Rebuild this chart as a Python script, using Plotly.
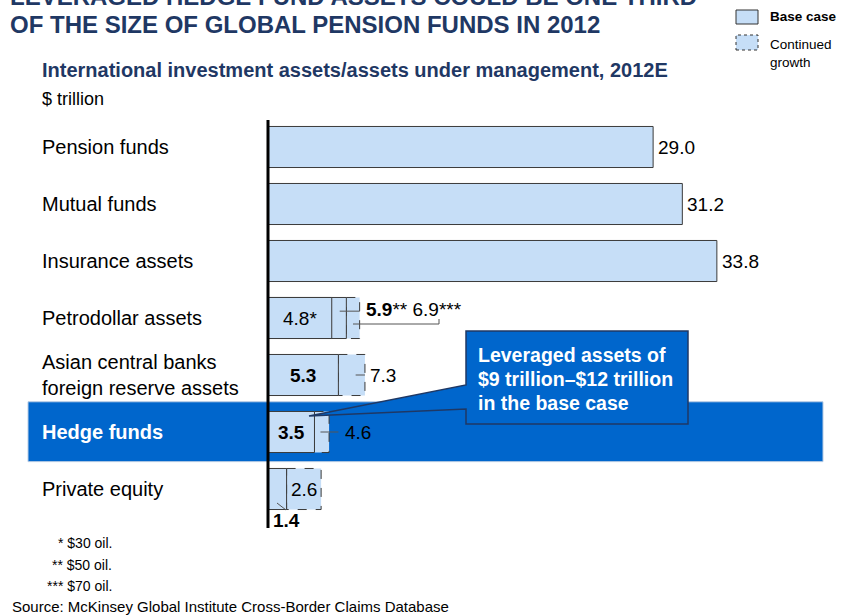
import plotly.graph_objects as go

# dados (US$ trilhões)
categorias = ['Pension funds', 'Mutual funds', 'Insurance assets', 'Petrodollar assets',
              'Asian central banks<br>foreign reserve assets', 'Hedge funds', 'Private equity']
base_case = [29.0, 31.2, 33.8, 5.9, 5.3, 3.5, 1.4]
petro_30 = [None, None, None, 4.8, None, None, None]
continued = [None, None, None, 6.9, 7.3, 4.6, 4.0]
rotulo_base = ['29.0', '31.2', '33.8', '<b>5.9</b>**', '<b>5.3</b>', '<b>3.5</b>', '<b>1.4</b>']
rotulo_cont = ['', '', '', '6.9***', '7.3', '4.6', '2.6']
notas = ['* $30 oil.', '** $50 oil.', '*** $70 oil.']
balao_linhas = ['Leveraged assets of', '$9 trillion–$12 trillion', 'in the base case']

W, H = 843, 615
EIXO_X = 268          # pixel do zero
PX_UNID = 13.28       # pixels por trilhão
LINHA0, PASSO = 147, 57

AZUL_CLARO = '#C6DEF7'
AZUL = '#0066CC'
MARINHO = '#1F3864'
CONTORNO = '#3A3A3A'
FONTE = 'Liberation Sans, Arial, sans-serif'


def px(x):
    return x / W


def py(y):
    return 1 - y / H


def texto(t, x, y, size, color='black', xanchor='left', align='left'):
    return dict(text=t, xref='paper', yref='paper', x=px(x), y=py(y), xanchor=xanchor,
                yanchor='middle', align=align, showarrow=False,
                font=dict(family=FONTE, size=size, color=color))


fig = go.Figure()

fig.add_trace(go.Bar(
    y=categorias, x=base_case, orientation='h', width=0.72,
    marker=dict(color=AZUL_CLARO, line=dict(color=CONTORNO, width=1)),
    hoverinfo='x+y', showlegend=False
))
fig.add_trace(go.Bar(
    y=categorias, x=petro_30, orientation='h', width=0.72,
    marker=dict(color=AZUL_CLARO, line=dict(color=CONTORNO, width=1)),
    hoverinfo='x+y', showlegend=False
))

shapes = []
# faixa de destaque dos hedge funds
i_hf = categorias.index('Hedge funds')
shapes.append(dict(type='rect', xref='paper', yref='y', layer='below',
                   x0=px(28), x1=px(823), y0=i_hf - 0.53, y1=i_hf + 0.52,
                   fillcolor=AZUL, line=dict(color='#B8CCE4', width=1)))

# caixas tracejadas (crescimento contínuo)
for i, (b, c) in enumerate(zip(base_case, continued)):
    if c is None:
        continue
    shapes.append(dict(type='rect', xref='x', yref='y', layer='below',
                       x0=b, x1=c, y0=i - 0.36, y1=i + 0.36,
                       fillcolor=AZUL_CLARO, line=dict(color=CONTORNO, width=1, dash='dash')))

# eixo vertical
shapes.append(dict(type='line', xref='x', yref='paper', x0=0, x1=0,
                   y0=py(120), y1=py(528), line=dict(color='black', width=3)))

# linhas de chamada
shapes += [
    dict(type='line', xref='x', yref='y', x0=5.4, x1=6.9, y0=3 - 0.12, y1=3 - 0.12,
         line=dict(color='#555', width=1)),
    dict(type='path', xref='paper', yref='paper',
         path=f'M {px(353)},{py(324)} L {px(439)},{py(324)} L {px(439)},{py(319)}',
         line=dict(color='#555', width=1)),
    dict(type='line', xref='x', yref='y', x0=6.6, x1=7.3, y0=4, y1=4,
         line=dict(color='#555', width=1)),
    dict(type='line', xref='x', yref='y', x0=3.95, x1=5.3, y0=5, y1=5,
         line=dict(color='#555', width=1)),
    dict(type='line', xref='paper', yref='paper', x0=px(277), x1=px(286),
         y0=py(503), y1=py(510), line=dict(color='#555', width=1)),
]

# balão explicativo
balao = (f'M {px(688)},{py(331)} L {px(466)},{py(331)} L {px(466)},{py(385)} '
         f'L {px(309)},{py(416)} L {px(466)},{py(409)} L {px(466)},{py(424)} '
         f'L {px(688)},{py(424)} Z')
shapes.append(dict(type='path', xref='paper', yref='paper', path=balao,
                   fillcolor=AZUL, line=dict(color=MARINHO, width=1.5)))

# legenda
shapes.append(dict(type='rect', xref='paper', yref='paper', x0=px(736), x1=px(758),
                   y0=py(24), y1=py(10), fillcolor=AZUL_CLARO, line=dict(color='#333', width=1)))
shapes.append(dict(type='rect', xref='paper', yref='paper', x0=px(736), x1=px(758),
                   y0=py(50), y1=py(35), fillcolor=AZUL_CLARO,
                   line=dict(color='#333', width=1, dash='dot')))

ann = []
# títulos
ann.append(texto('<b>LEVERAGED HEDGE FUND ASSETS COULD BE ONE THIRD</b>', 8, -3, 24, MARINHO))
ann.append(texto('<b>OF THE SIZE OF GLOBAL PENSION FUNDS IN 2012</b>', 8, 24, 24, MARINHO))
ann.append(texto('<b>International investment assets/assets under management, 2012E</b>',
                 40, 70, 20, MARINHO))
ann.append(texto('$ trillion', 40, 99, 18))

# rótulos das categorias
for i, c in enumerate(categorias):
    hf = c == 'Hedge funds'
    ann.append(dict(text=f'<b>{c}</b>' if hf else c, xref='paper', yref='y', x=px(40), y=i,
                    xanchor='left', yanchor='middle', align='left', showarrow=False,
                    font=dict(family=FONTE, size=20, color='white' if hf else 'black')))

# rótulos de valor
valores = []
for i, (b, c) in enumerate(zip(base_case, continued)):
    if c is None:
        valores.append(dict(text=rotulo_base[i], x=b, y=i, xanchor='left', xshift=3))
    elif categorias[i] == 'Petrodollar assets':
        valores.append(dict(text=f'{petro_30[i]}*', x=petro_30[i] / 2, y=i, xanchor='center'))
        valores.append(dict(text=rotulo_base[i] + ' ' + rotulo_cont[i], x=c, y=i - 0.15,
                            xanchor='left', xshift=4))
    elif categorias[i] == 'Private equity':
        valores.append(dict(text=rotulo_cont[i], x=(b + c) / 2, y=i, xanchor='center'))
        valores.append(dict(text=rotulo_base[i], x=b, y=i + 0.56, xanchor='center'))
    elif categorias[i] == 'Hedge funds':
        valores.append(dict(text=rotulo_base[i], x=b / 2, y=i, xanchor='center'))
        valores.append(dict(text=rotulo_cont[i], x=c, y=i, xanchor='left', xshift=14))
    else:
        valores.append(dict(text=rotulo_base[i], x=b / 2, y=i, xanchor='center'))
        valores.append(dict(text=rotulo_cont[i], x=c, y=i, xanchor='left', xshift=3))
for a in valores:
    a.update(xref='x', yref='y', yanchor='middle', showarrow=False,
             font=dict(family=FONTE, size=19, color='black'))
ann += valores

for k, linha in enumerate(balao_linhas):
    ann.append(texto(f'<b>{linha}</b>', 476, 355 + 24 * k, 19.5, 'white'))

# legenda (texto)
ann.append(texto('<b>Base case</b>', 768, 17, 13.5))
ann.append(texto('Continued', 768, 45, 13.5))
ann.append(texto('growth', 768, 63, 13.5))

# notas e fonte
for k, n in enumerate(notas):
    ann.append(texto(n, 114, 543 + 21.5 * k, 14, xanchor='right'))
ann.append(texto('Source: McKinsey Global Institute Cross-Border Claims Database', 10, 606, 15))

fig.update_layout(
    width=W, height=H,
    margin=dict(l=0, r=0, t=0, b=0),
    paper_bgcolor='white', plot_bgcolor='white',
    barmode='overlay',
    shapes=shapes, annotations=ann,
    xaxis=dict(range=[-EIXO_X / PX_UNID, (W - EIXO_X) / PX_UNID], visible=False),
    yaxis=dict(type='category', categoryorder='array', categoryarray=categorias,
               range=[(H - LINHA0) / PASSO, -LINHA0 / PASSO], visible=False),
    showlegend=False
)

fig.write_html('out.html', config={'displayModeBar': False},
               post_script="document.body.style.margin='0px';")
